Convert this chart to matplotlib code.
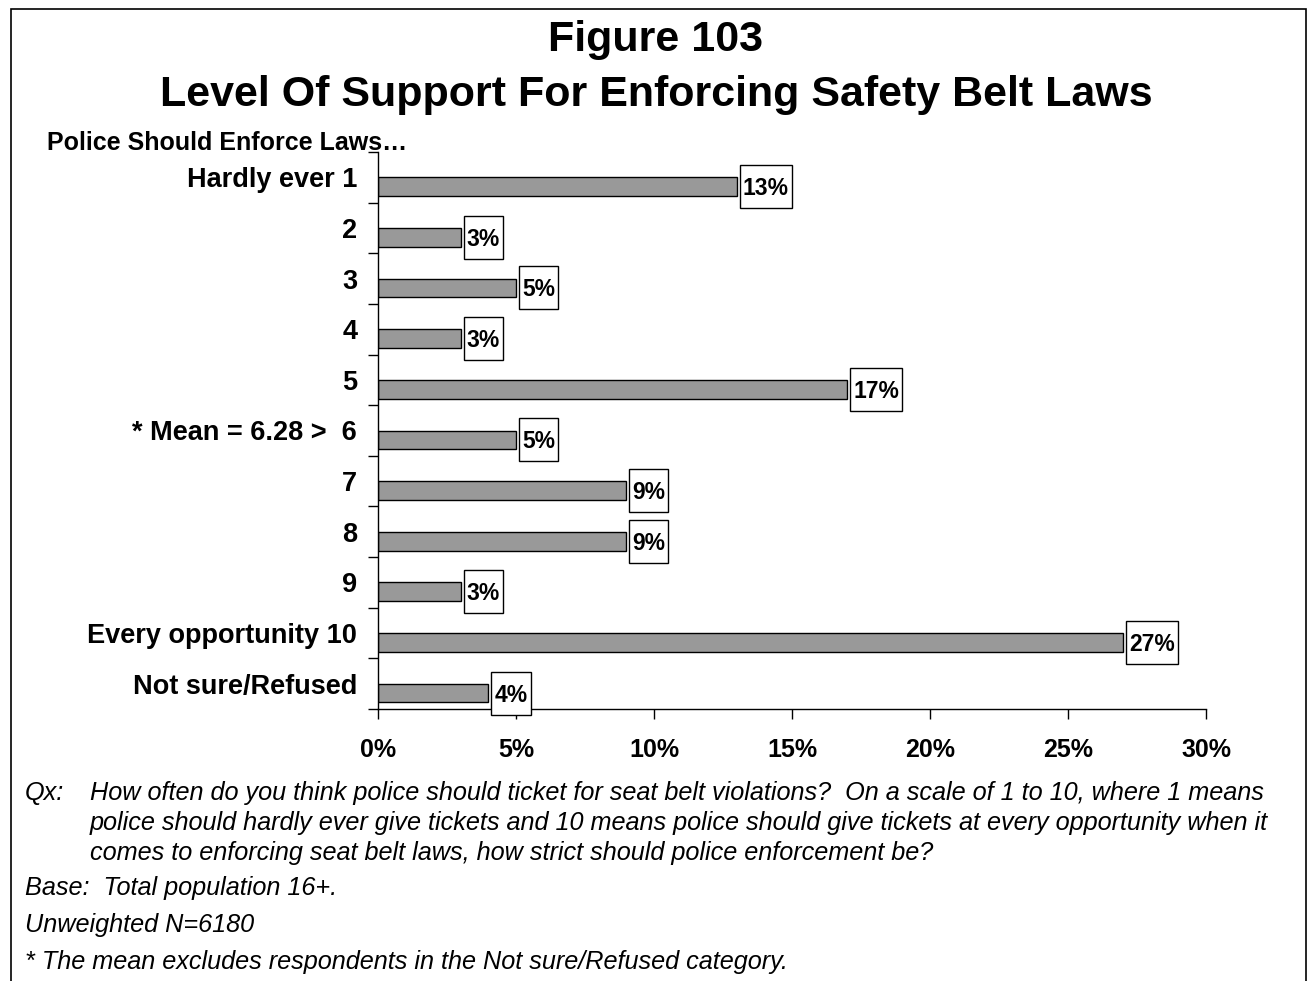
import numpy as np
import matplotlib.pyplot as plt
from matplotlib.patches import Rectangle

plt.rcParams['font.family'] = ['Liberation Sans', 'DejaVu Sans']

categories = ['Hardly ever 1', '2', '3', '4', '5', '* Mean = 6.28 >  6',
              '7', '8', '9', 'Every opportunity 10', 'Not sure/Refused']
values = [13, 3, 5, 3, 17, 5, 9, 9, 3, 27, 4]
xticks = [0, 5, 10, 15, 20, 25, 30]
xtick_labels = ['0%', '5%', '10%', '15%', '20%', '25%', '30%']

W, H = 1312, 981
fig = plt.figure(figsize=(W / 100, H / 100), dpi=100)

# outer frame (bottom edge runs off the page)
fig.add_artist(Rectangle((11 / W, -0.05), (1306 - 11) / W, 1 - 9 / H + 0.05,
                         transform=fig.transFigure, fill=False,
                         edgecolor='black', linewidth=1.2))

ax = fig.add_axes([378 / W, 1 - 709 / H, (1206 - 378) / W, (709 - 152) / H])

n = len(categories)
ypos = np.arange(n) + 0.5
ax.barh(ypos, values, height=0.37, align='edge', color='#999999',
        edgecolor='black', linewidth=1.0)

ax.set_xlim(0, 30)
ax.set_ylim(n, 0)

ax.set_xticks(xticks)
ax.set_xticklabels(xtick_labels, fontsize=18, fontweight='bold')
ax.tick_params(axis='x', direction='out', length=7, width=1, pad=14)

ax.set_yticks(np.arange(n + 1))
ax.set_yticklabels([])
ax.set_yticks(ypos, minor=True)
ax.set_yticklabels(categories, minor=True, fontsize=19.5, fontweight='bold')
ax.tick_params(axis='y', which='major', direction='out', length=7, width=1)
ax.tick_params(axis='y', which='minor', length=0, pad=15)

for s in ['top', 'right']:
    ax.spines[s].set_visible(False)
for s in ['left', 'bottom']:
    ax.spines[s].set_linewidth(1.0)

# value labels in boxes
texts = []
for y, v in zip(ypos, values):
    t = ax.annotate(f'{v}%', xy=(v, y + 0.185), xytext=(6, -2),
                    textcoords='offset pixels', ha='left', va='center',
                    fontsize=16.5, fontweight='bold', zorder=6,
                    annotation_clip=False)
    texts.append((t, v, y))

fig.canvas.draw()
inv = ax.transAxes.inverted()
for t, v, y in texts:
    bb = t.get_window_extent()
    xb, yc = ax.transData.transform((v, y + 0.185))
    x0 = xb + 3
    x1 = bb.x1 + 3
    y0 = yc - 21.5
    (ax0, ay0) = inv.transform((x0, y0))
    (ax1, ay1) = inv.transform((x1, y0 + 43))
    ax.add_patch(Rectangle((ax0, ay0), ax1 - ax0, ay1 - ay0,
                           transform=ax.transAxes, facecolor='white',
                           edgecolor='black', linewidth=1.0, zorder=5,
                           clip_on=False))

fig.text(0.5, 1 - 40 / H, 'Figure 103', ha='center', va='center',
         fontsize=31, fontweight='bold')
fig.text(0.5, 1 - 95 / H, 'Level Of Support For Enforcing Safety Belt Laws',
         ha='center', va='center', fontsize=31, fontweight='bold')
fig.text(47 / W, 1 - 143 / H, 'Police Should Enforce Laws\u2026', ha='left',
         va='center', fontsize=18, fontweight='bold')

foot = dict(fontsize=18.2, style='italic', va='center', ha='left')
fig.text(25 / W, 1 - 793 / H, 'Qx:', **foot)
fig.text(90 / W, 1 - 793 / H, 'How often do you think police should ticket for seat belt violations?  '
         'On a scale of 1 to 10, where 1 means', **foot)
fig.text(90 / W, 1 - 823 / H, 'police should hardly ever give tickets and 10 means police should '
         'give tickets at every opportunity when it', **foot)
fig.text(90 / W, 1 - 853 / H, 'comes to enforcing seat belt laws, how strict should police '
         'enforcement be?', **foot)
fig.text(25 / W, 1 - 888 / H, 'Base:  Total population 16+.', **foot)
fig.text(25 / W, 1 - 925 / H, 'Unweighted N=6180', **foot)
fig.text(25 / W, 1 - 962 / H, '* The mean excludes respondents in the Not sure/Refused category.',
         **foot)

fig.savefig('out.png', dpi=100)
